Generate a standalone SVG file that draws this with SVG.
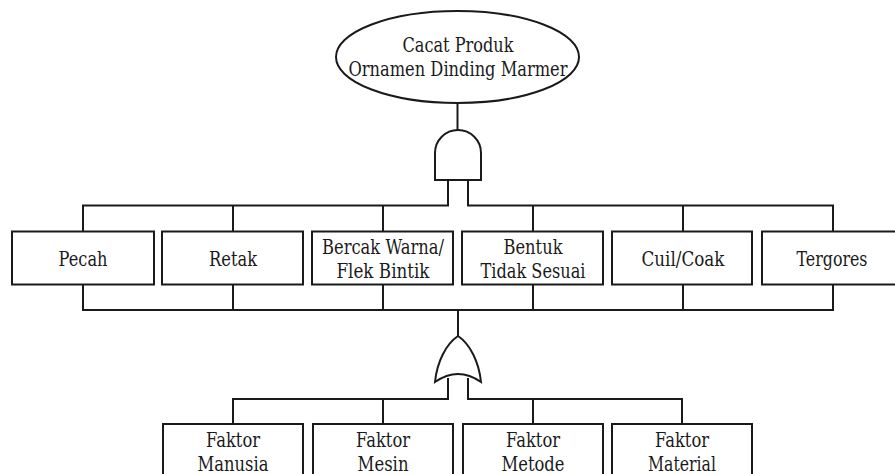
<svg xmlns="http://www.w3.org/2000/svg" width="895" height="474" viewBox="0 0 895 474" font-family="DejaVu Serif, Liberation Serif, serif" font-size="19.5" text-anchor="middle" fill="#1a1a1a">
<style>
.s{fill:#fff;stroke:#1a1a1a;stroke-width:2}
.l{fill:none;stroke:#1a1a1a;stroke-width:2}
</style>
<rect width="895" height="474" fill="#fff"/>
<g id="connectors" class="l">
<path d="M457.5,103 V130"/>
<path d="M448,180 V205.5 H83 V231.5 M233,205.5 V231.5 M383,205.5 V231.5"/>
<path d="M468,180 V205.5 H833 V231.5 M533,205.5 V231.5 M683,205.5 V231.5"/>
<path d="M83,284.5 V310 H833 V284.5 M233,284.5 V310 M383,284.5 V310 M533,284.5 V310 M683,284.5 V310"/>
<path d="M458,310 V336"/>
<path d="M448,378 V399 H233 V424 M383,399 V424"/>
<path d="M468,378 V399 H682 V424 M533,399 V424"/>
</g>
<g id="top">
<ellipse class="s" cx="457.5" cy="57" rx="121.5" ry="46"/>
<text x="458" y="52" textLength="111" lengthAdjust="spacingAndGlyphs">Cacat Produk</text>
<text x="458" y="76" textLength="219" lengthAdjust="spacingAndGlyphs">Ornamen Dinding Marmer</text>
</g>
<g id="and-gate">
<path class="s" d="M435,180 V153 A23,23 0 0 1 481,153 V180 Z"/>
</g>
<g id="or-gate">
<path class="s" d="M458,336 C446,344 437,362 435,382 Q458,366 481,382 C479,362 470,344 458,336 Z"/>
</g>
<g id="pecah"><rect class="s" x="12" y="231.5" width="142" height="53"/><text x="83" y="266" textLength="49" lengthAdjust="spacingAndGlyphs">Pecah</text></g>
<g id="retak"><rect class="s" x="162" y="231.5" width="141" height="53"/><text x="233" y="266" textLength="48" lengthAdjust="spacingAndGlyphs">Retak</text></g>
<g id="bercak"><rect class="s" x="312" y="231.5" width="141" height="53"/><text x="383" y="253.5" textLength="122" lengthAdjust="spacingAndGlyphs">Bercak Warna/</text><text x="383" y="278" textLength="93" lengthAdjust="spacingAndGlyphs">Flek Bintik</text></g>
<g id="bentuk"><rect class="s" x="462" y="231.5" width="141" height="53"/><text x="533" y="253.5" textLength="59" lengthAdjust="spacingAndGlyphs">Bentuk</text><text x="533" y="278" textLength="105" lengthAdjust="spacingAndGlyphs">Tidak Sesuai</text></g>
<g id="cuil"><rect class="s" x="612" y="231.5" width="140" height="53"/><text x="683" y="266" textLength="83" lengthAdjust="spacingAndGlyphs">Cuil/Coak</text></g>
<g id="tergores"><rect class="s" x="762" y="231.5" width="141" height="53"/><text x="832" y="266" textLength="71" lengthAdjust="spacingAndGlyphs">Tergores</text></g>
<g id="manusia"><rect class="s" x="163" y="424" width="140" height="70"/><text x="233" y="447" textLength="54" lengthAdjust="spacingAndGlyphs">Faktor</text><text x="233" y="471" textLength="71" lengthAdjust="spacingAndGlyphs">Manusia</text></g>
<g id="mesin"><rect class="s" x="313" y="424" width="140" height="70"/><text x="383" y="447" textLength="54" lengthAdjust="spacingAndGlyphs">Faktor</text><text x="383" y="471" textLength="51" lengthAdjust="spacingAndGlyphs">Mesin</text></g>
<g id="metode"><rect class="s" x="463" y="424" width="140" height="70"/><text x="533" y="447" textLength="54" lengthAdjust="spacingAndGlyphs">Faktor</text><text x="533" y="471" textLength="63" lengthAdjust="spacingAndGlyphs">Metode</text></g>
<g id="material"><rect class="s" x="612" y="424" width="140" height="70"/><text x="682" y="447" textLength="54" lengthAdjust="spacingAndGlyphs">Faktor</text><text x="682" y="471" textLength="68" lengthAdjust="spacingAndGlyphs">Material</text></g>
</svg>
